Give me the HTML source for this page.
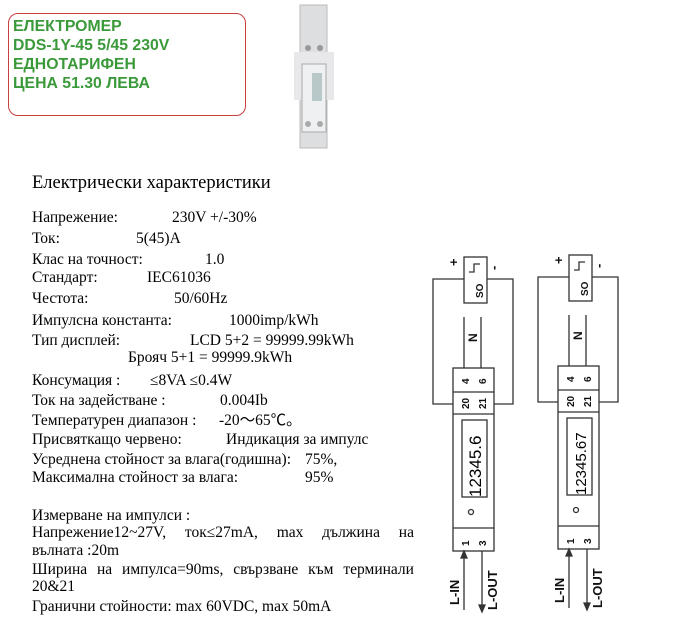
<!DOCTYPE html>
<html><head><meta charset="utf-8"><style>
body{margin:0;width:676px;height:628px;background:#fff;position:relative;overflow:hidden;font-family:"Liberation Serif",serif;color:#000}
.t{position:absolute;font-size:15.5px;white-space:nowrap;line-height:16px}
.g{position:absolute;left:13px;font-family:"Liberation Sans",sans-serif;font-size:15.8px;font-weight:bold;color:#3a9a3a;line-height:19px}
.j{position:absolute;left:32px;width:382px;font-size:15.5px;display:flex;justify-content:space-between;line-height:16px}
</style></head><body>
<div style="position:absolute;left:8px;top:13px;width:236px;height:101px;border:1px solid #c84040;border-radius:10px"></div>
<div class="g" style="top:17px">ЕЛЕКТРОМЕР<br>DDS-1Y-45 5/45 230V<br>ЕДНОТАРИФЕН<br>ЦЕНА 51.30 ЛЕВА</div>
<svg style="position:absolute;left:290px;top:0" width="60" height="155">
<rect x="10" y="5" width="27" height="143" fill="#dcdee0" stroke="#bbb"/>
<rect x="4" y="52" width="40" height="48" fill="#e8e8ea"/>
<rect x="12" y="64" width="24" height="68" fill="#eef0f2" stroke="#aaa"/>
<rect x="22" y="73" width="10" height="28" fill="#b8c8c8"/>
<circle cx="18" cy="48" r="3" fill="#999"/><circle cx="30" cy="48" r="3" fill="#999"/>
<circle cx="18" cy="124" r="3" fill="#aaa"/><circle cx="30" cy="124" r="3" fill="#aaa"/>
</svg>
<div class="t" style="left:32px;top:175px;font-size:18.5px">Електрически характеристики</div>
<div class="t" style="left:32px;top:210px">Напрежение:</div><div class="t" style="left:172px;top:210px">230V +/-30%</div>
<div class="t" style="left:32px;top:231px">Ток:</div><div class="t" style="left:136px;top:231px">5(45)A</div>
<div class="t" style="left:32px;top:252px">Клас на точност:</div><div class="t" style="left:205px;top:252px">1.0</div>
<div class="t" style="left:32px;top:270px">Стандарт:</div><div class="t" style="left:147px;top:270px">IEC61036</div>
<div class="t" style="left:32px;top:291px">Честота:</div><div class="t" style="left:174px;top:291px">50/60Hz</div>
<div class="t" style="left:32px;top:313px">Импулсна константа:</div><div class="t" style="left:229px;top:313px">1000imp/kWh</div>
<div class="t" style="left:32px;top:333px">Тип дисплей:</div><div class="t" style="left:190px;top:333px">LCD 5+2 = 99999.99kWh</div>
<div class="t" style="left:128px;top:350px">Брояч 5+1 = 99999.9kWh</div>
<div class="t" style="left:32px;top:373px">Консумация :</div><div class="t" style="left:150px;top:373px">≤8VA ≤0.4W</div>
<div class="t" style="left:32px;top:393px">Ток на задействане :</div><div class="t" style="left:220px;top:393px">0.004Ib</div>
<div class="t" style="left:32px;top:413px">Температурен диапазон :</div><div class="t" style="left:219px;top:413px">-20～65℃。</div>
<div class="t" style="left:32px;top:432px">Присвяткащо червено:</div><div class="t" style="left:226px;top:432px">Индикация за импулс</div>
<div class="t" style="left:32px;top:452px">Усреднена стойност за влага(годишна):</div><div class="t" style="left:305px;top:452px">75%,</div>
<div class="t" style="left:32px;top:470px">Максимална стойност за влага:</div><div class="t" style="left:305px;top:470px">95%</div>
<div class="t" style="left:32px;top:508px">Измерване на импулси :</div>
<div class="j" style="top:525px"><span>Напрежение12~27V,</span><span>ток≤27mA,</span><span>max</span><span>дължина</span><span>на</span></div>
<div class="t" style="left:32px;top:543px">вълната :20m</div>
<div class="j" style="top:562px"><span>Ширина</span><span>на</span><span>импулса=90ms,</span><span>свързване</span><span>към</span><span>терминали</span></div>
<div class="t" style="left:32px;top:579px">20&amp;21</div>
<div class="t" style="left:32px;top:599px">Гранични стойности: max 60VDC, max 50mA</div>
<svg style="position:absolute;left:0;top:0" width="676" height="628" font-family="Liberation Sans,sans-serif" font-weight="bold">
<defs><g id="m" stroke="#333" stroke-width="1.3" fill="none">
<path d="M464 279H433V404H453M487 279H513V404H494"/>
<rect x="464" y="257" width="23" height="46" fill="#fff"/>
<path d="M469 272h5v-8h6"/>
<path d="M464 317V368M481 317V368"/>
<rect x="453" y="368" width="41" height="183" fill="#fff"/>
<path d="M453 392H494M453 414H494M453 528H494"/>
<rect x="462" y="420" width="25" height="77"/>
<circle cx="471" cy="512" r="2.5"/>
<path d="M464 610V556M482 551V606"/>
<path d="M464 551l-3 7h6z M482 612l-3-7h6z" fill="#333"/>
<g fill="#111" stroke="none">
<text x="0" y="0" font-size="10" transform="translate(483 298) rotate(-90)">SO</text>
<text x="0" y="0" font-size="13" transform="translate(458 266) rotate(-90)">+</text>
<text x="0" y="0" font-size="13" transform="translate(498 270) rotate(-90)">-</text>
<text x="0" y="0" font-size="12" transform="translate(477 342) rotate(-90)">N</text>
<text x="0" y="0" font-size="10" transform="translate(469 384) rotate(-90)">4</text>
<text x="0" y="0" font-size="10" transform="translate(486 384) rotate(-90)">6</text>
<text x="0" y="0" font-size="10" transform="translate(469 409) rotate(-90)">20</text>
<text x="0" y="0" font-size="10" transform="translate(486 409) rotate(-90)">21</text>
<text x="0" y="0" font-size="10" transform="translate(469 546) rotate(-90)">1</text>
<text x="0" y="0" font-size="10" transform="translate(486 546) rotate(-90)">3</text>
<text x="0" y="0" font-size="13" transform="translate(459 605) rotate(-90)">L-IN</text>
<text x="0" y="0" font-size="13" transform="translate(497 610) rotate(-90)">L-OUT</text>
</g></g></defs>
<use href="#m"/>
<text x="0" y="0" font-size="17" font-weight="normal" transform="translate(481 497) rotate(-90)">12345.6</text>
<use href="#m" transform="translate(105 -2)"/>
<text x="0" y="0" font-size="15" font-weight="normal" transform="translate(586 495) rotate(-90)">12345.67</text>
</svg>
</body></html>
